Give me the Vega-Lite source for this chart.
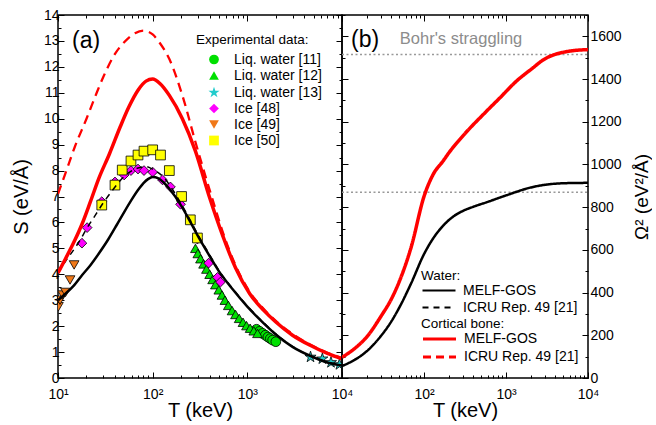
{
  "$schema": "https://vega.github.io/schema/vega-lite/v6.json",
  "padding": {"left": 10, "top": 7, "right": 0, "bottom": 0},
  "background": "white",
  "spacing": 0,
  "bounds": "flush",
  "config": {
    "font": "Liberation Sans",
    "view": {"stroke": "black", "strokeWidth": 1.5},
    "axis": {"domain": false, "grid": false, "labelFont": "Liberation Sans", "labelFontSize": 14, "labelColor": "black", "titleFont": "Liberation Sans", "titleFontSize": 20, "titleFontWeight": "normal", "titleColor": "black", "tickColor": "black", "tickWidth": 1},
    "legend": {"labelFont": "Liberation Sans", "titleFont": "Liberation Sans", "labelFontSize": 14, "titleFontSize": 13.5, "titleFontWeight": "normal", "labelColor": "black", "titleColor": "black", "symbolOffset": 11, "padding": 0}
  },
  "datasets": {
    "curvesA": [
      {"m": "wm", "T": 10, "S": 3.0}, {"m": "wm", "T": 12, "S": 3.25}, {"m": "wm", "T": 15, "S": 3.6}, {"m": "wm", "T": 18, "S": 3.97}, {"m": "wm", "T": 22, "S": 4.35}, {"m": "wm", "T": 27, "S": 4.8}, {"m": "wm", "T": 34, "S": 5.35}, {"m": "wm", "T": 42, "S": 5.92}, {"m": "wm", "T": 50, "S": 6.4}, {"m": "wm", "T": 60, "S": 6.88}, {"m": "wm", "T": 70, "S": 7.25}, {"m": "wm", "T": 80, "S": 7.52}, {"m": "wm", "T": 90, "S": 7.68}, {"m": "wm", "T": 100, "S": 7.75}, {"m": "wm", "T": 115, "S": 7.7}, {"m": "wm", "T": 130, "S": 7.55}, {"m": "wm", "T": 150, "S": 7.3}, {"m": "wm", "T": 200, "S": 6.65}, {"m": "wm", "T": 250, "S": 6.02}, {"m": "wm", "T": 300, "S": 5.48}, {"m": "wm", "T": 400, "S": 4.7}, {"m": "wm", "T": 500, "S": 4.12}, {"m": "wm", "T": 700, "S": 3.42}, {"m": "wm", "T": 1000, "S": 2.75}, {"m": "wm", "T": 1500, "S": 2.1}, {"m": "wm", "T": 2000, "S": 1.68}, {"m": "wm", "T": 3000, "S": 1.2}, {"m": "wm", "T": 5000, "S": 0.8}, {"m": "wm", "T": 7000, "S": 0.6}, {"m": "wm", "T": 10000, "S": 0.48},
      {"m": "wi", "T": 10, "S": 4.05}, {"m": "wi", "T": 12, "S": 4.5}, {"m": "wi", "T": 15, "S": 5.0}, {"m": "wi", "T": 17, "S": 5.3}, {"m": "wi", "T": 20, "S": 5.75}, {"m": "wi", "T": 25, "S": 6.3}, {"m": "wi", "T": 30, "S": 6.75}, {"m": "wi", "T": 37, "S": 7.2}, {"m": "wi", "T": 45, "S": 7.6}, {"m": "wi", "T": 55, "S": 7.9}, {"m": "wi", "T": 70, "S": 8.1}, {"m": "wi", "T": 85, "S": 8.15}, {"m": "wi", "T": 100, "S": 8.05}, {"m": "wi", "T": 130, "S": 7.75}, {"m": "wi", "T": 160, "S": 7.3}, {"m": "wi", "T": 200, "S": 6.72}, {"m": "wi", "T": 250, "S": 6.08}, {"m": "wi", "T": 300, "S": 5.53}, {"m": "wi", "T": 400, "S": 4.75}, {"m": "wi", "T": 500, "S": 4.15}, {"m": "wi", "T": 700, "S": 3.45}, {"m": "wi", "T": 1000, "S": 2.78}, {"m": "wi", "T": 1500, "S": 2.12}, {"m": "wi", "T": 2000, "S": 1.7}, {"m": "wi", "T": 3000, "S": 1.22}, {"m": "wi", "T": 5000, "S": 0.8}, {"m": "wi", "T": 7000, "S": 0.62}, {"m": "wi", "T": 10000, "S": 0.5},
      {"m": "bm", "T": 10, "S": 4.05}, {"m": "bm", "T": 12, "S": 4.6}, {"m": "bm", "T": 15, "S": 5.3}, {"m": "bm", "T": 18, "S": 5.95}, {"m": "bm", "T": 22, "S": 6.8}, {"m": "bm", "T": 27, "S": 7.7}, {"m": "bm", "T": 35, "S": 8.65}, {"m": "bm", "T": 45, "S": 9.65}, {"m": "bm", "T": 56, "S": 10.45}, {"m": "bm", "T": 70, "S": 11.1}, {"m": "bm", "T": 85, "S": 11.45}, {"m": "bm", "T": 100, "S": 11.53}, {"m": "bm", "T": 120, "S": 11.35}, {"m": "bm", "T": 150, "S": 10.9}, {"m": "bm", "T": 206, "S": 10.0}, {"m": "bm", "T": 283, "S": 8.75}, {"m": "bm", "T": 400, "S": 6.95}, {"m": "bm", "T": 548, "S": 5.5}, {"m": "bm", "T": 750, "S": 4.25}, {"m": "bm", "T": 1060, "S": 3.25}, {"m": "bm", "T": 1500, "S": 2.6}, {"m": "bm", "T": 2000, "S": 2.16}, {"m": "bm", "T": 3000, "S": 1.65}, {"m": "bm", "T": 4550, "S": 1.27}, {"m": "bm", "T": 7000, "S": 0.95}, {"m": "bm", "T": 10000, "S": 0.74},
      {"m": "bi", "T": 10, "S": 7.1}, {"m": "bi", "T": 12, "S": 7.9}, {"m": "bi", "T": 15, "S": 8.9}, {"m": "bi", "T": 20, "S": 10.0}, {"m": "bi", "T": 25, "S": 10.9}, {"m": "bi", "T": 30, "S": 11.6}, {"m": "bi", "T": 40, "S": 12.5}, {"m": "bi", "T": 50, "S": 12.95}, {"m": "bi", "T": 65, "S": 13.3}, {"m": "bi", "T": 80, "S": 13.4}, {"m": "bi", "T": 100, "S": 13.25}, {"m": "bi", "T": 120, "S": 12.9}, {"m": "bi", "T": 150, "S": 12.3}, {"m": "bi", "T": 206, "S": 10.9}, {"m": "bi", "T": 283, "S": 9.1}, {"m": "bi", "T": 428, "S": 6.9}, {"m": "bi", "T": 548, "S": 5.65}, {"m": "bi", "T": 750, "S": 4.35}, {"m": "bi", "T": 1060, "S": 3.32}, {"m": "bi", "T": 1500, "S": 2.65}, {"m": "bi", "T": 2000, "S": 2.2}, {"m": "bi", "T": 3000, "S": 1.7}, {"m": "bi", "T": 4550, "S": 1.3}, {"m": "bi", "T": 7000, "S": 0.97}, {"m": "bi", "T": 10000, "S": 0.77}
    ],
    "exp": [
      {"set": "Liq. water [11]", "T": 1250, "S": 1.88}, {"set": "Liq. water [11]", "T": 1350, "S": 1.8}, {"set": "Liq. water [11]", "T": 1450, "S": 1.72}, {"set": "Liq. water [11]", "T": 1550, "S": 1.65}, {"set": "Liq. water [11]", "T": 1650, "S": 1.58}, {"set": "Liq. water [11]", "T": 1750, "S": 1.52}, {"set": "Liq. water [11]", "T": 1850, "S": 1.46}, {"set": "Liq. water [11]", "T": 2000, "S": 1.4},
      {"set": "Liq. water [12]", "T": 283, "S": 5.0}, {"set": "Liq. water [12]", "T": 300, "S": 4.8}, {"set": "Liq. water [12]", "T": 320, "S": 4.6}, {"set": "Liq. water [12]", "T": 345, "S": 4.4}, {"set": "Liq. water [12]", "T": 370, "S": 4.2}, {"set": "Liq. water [12]", "T": 400, "S": 4.0}, {"set": "Liq. water [12]", "T": 430, "S": 3.8}, {"set": "Liq. water [12]", "T": 460, "S": 3.6}, {"set": "Liq. water [12]", "T": 500, "S": 3.4}, {"set": "Liq. water [12]", "T": 540, "S": 3.2}, {"set": "Liq. water [12]", "T": 580, "S": 3.0}, {"set": "Liq. water [12]", "T": 630, "S": 2.8}, {"set": "Liq. water [12]", "T": 690, "S": 2.6}, {"set": "Liq. water [12]", "T": 750, "S": 2.45}, {"set": "Liq. water [12]", "T": 820, "S": 2.3}, {"set": "Liq. water [12]", "T": 900, "S": 2.15}, {"set": "Liq. water [12]", "T": 980, "S": 2.02}, {"set": "Liq. water [12]", "T": 1070, "S": 1.92}, {"set": "Liq. water [12]", "T": 1170, "S": 1.82}, {"set": "Liq. water [12]", "T": 1280, "S": 1.72},
      {"set": "Liq. water [13]", "T": 4650, "S": 0.81}, {"set": "Liq. water [13]", "T": 6200, "S": 0.74}, {"set": "Liq. water [13]", "T": 7650, "S": 0.6}, {"set": "Liq. water [13]", "T": 9400, "S": 0.52},
      {"set": "Ice [48]", "T": 17.9, "S": 5.2}, {"set": "Ice [48]", "T": 20.3, "S": 5.8}, {"set": "Ice [48]", "T": 29, "S": 6.8}, {"set": "Ice [48]", "T": 40, "S": 7.56}, {"set": "Ice [48]", "T": 50, "S": 7.83}, {"set": "Ice [48]", "T": 59, "S": 8.0}, {"set": "Ice [48]", "T": 70, "S": 8.06}, {"set": "Ice [48]", "T": 81, "S": 8.0}, {"set": "Ice [48]", "T": 100, "S": 7.94}, {"set": "Ice [48]", "T": 127, "S": 7.64}, {"set": "Ice [48]", "T": 154, "S": 7.37}, {"set": "Ice [48]", "T": 197, "S": 6.7}, {"set": "Ice [48]", "T": 297, "S": 5.36}, {"set": "Ice [48]", "T": 390, "S": 4.43}, {"set": "Ice [48]", "T": 484, "S": 3.88}, {"set": "Ice [48]", "T": 520, "S": 3.7},
      {"set": "Ice [49]", "T": 10.1, "S": 2.75}, {"set": "Ice [49]", "T": 10.5, "S": 3.0}, {"set": "Ice [49]", "T": 11.2, "S": 3.2}, {"set": "Ice [49]", "T": 12, "S": 3.3}, {"set": "Ice [49]", "T": 13.4, "S": 3.78}, {"set": "Ice [49]", "T": 14.8, "S": 4.36},
      {"set": "Ice [50]", "T": 29, "S": 6.67}, {"set": "Ice [50]", "T": 40, "S": 7.44}, {"set": "Ice [50]", "T": 47.7, "S": 8.02}, {"set": "Ice [50]", "T": 59, "S": 8.37}, {"set": "Ice [50]", "T": 70, "S": 8.6}, {"set": "Ice [50]", "T": 81, "S": 8.75}, {"set": "Ice [50]", "T": 100, "S": 8.8}, {"set": "Ice [50]", "T": 121, "S": 8.6}, {"set": "Ice [50]", "T": 150, "S": 8.0}, {"set": "Ice [50]", "T": 202, "S": 7.0}, {"set": "Ice [50]", "T": 250, "S": 6.1}, {"set": "Ice [50]", "T": 297, "S": 5.4}
    ],
    "curvesB": [
      {"mat": "water", "model": "MELF-GOS", "T": 10, "O": 56}, {"mat": "water", "model": "MELF-GOS", "T": 15, "O": 90}, {"mat": "water", "model": "MELF-GOS", "T": 20, "O": 125}, {"mat": "water", "model": "MELF-GOS", "T": 30, "O": 198}, {"mat": "water", "model": "MELF-GOS", "T": 40, "O": 265}, {"mat": "water", "model": "MELF-GOS", "T": 50, "O": 330}, {"mat": "water", "model": "MELF-GOS", "T": 70, "O": 445}, {"mat": "water", "model": "MELF-GOS", "T": 100, "O": 580}, {"mat": "water", "model": "MELF-GOS", "T": 130, "O": 655}, {"mat": "water", "model": "MELF-GOS", "T": 170, "O": 712}, {"mat": "water", "model": "MELF-GOS", "T": 220, "O": 752}, {"mat": "water", "model": "MELF-GOS", "T": 300, "O": 783}, {"mat": "water", "model": "MELF-GOS", "T": 400, "O": 802}, {"mat": "water", "model": "MELF-GOS", "T": 600, "O": 825}, {"mat": "water", "model": "MELF-GOS", "T": 1000, "O": 855}, {"mat": "water", "model": "MELF-GOS", "T": 2000, "O": 892}, {"mat": "water", "model": "MELF-GOS", "T": 3000, "O": 905}, {"mat": "water", "model": "MELF-GOS", "T": 5000, "O": 912}, {"mat": "water", "model": "MELF-GOS", "T": 10000, "O": 914},
      {"mat": "bone", "model": "MELF-GOS", "T": 10, "O": 97}, {"mat": "bone", "model": "MELF-GOS", "T": 15, "O": 145}, {"mat": "bone", "model": "MELF-GOS", "T": 20, "O": 192}, {"mat": "bone", "model": "MELF-GOS", "T": 30, "O": 290}, {"mat": "bone", "model": "MELF-GOS", "T": 40, "O": 370}, {"mat": "bone", "model": "MELF-GOS", "T": 50, "O": 452}, {"mat": "bone", "model": "MELF-GOS", "T": 70, "O": 615}, {"mat": "bone", "model": "MELF-GOS", "T": 100, "O": 850}, {"mat": "bone", "model": "MELF-GOS", "T": 130, "O": 955}, {"mat": "bone", "model": "MELF-GOS", "T": 170, "O": 1015}, {"mat": "bone", "model": "MELF-GOS", "T": 206, "O": 1060}, {"mat": "bone", "model": "MELF-GOS", "T": 300, "O": 1135}, {"mat": "bone", "model": "MELF-GOS", "T": 570, "O": 1247}, {"mat": "bone", "model": "MELF-GOS", "T": 843, "O": 1312}, {"mat": "bone", "model": "MELF-GOS", "T": 1320, "O": 1388}, {"mat": "bone", "model": "MELF-GOS", "T": 2140, "O": 1453}, {"mat": "bone", "model": "MELF-GOS", "T": 2800, "O": 1488}, {"mat": "bone", "model": "MELF-GOS", "T": 5400, "O": 1528}, {"mat": "bone", "model": "MELF-GOS", "T": 10000, "O": 1538}
    ],
    "bohr": [
      {"mat": "bone", "T": 10, "O": 1515}, {"mat": "bone", "T": 10000, "O": 1515},
      {"mat": "water", "T": 10, "O": 870}, {"mat": "water", "T": 10000, "O": 870}
    ],
    "labelsA": [{"txt": "(a)", "T": 19.8, "S": 13.0}],
    "labelsB": [{"txt": "(b)", "T": 19.1, "O": 1585, "g": "p"}, {"txt": "Bohr's straggling", "T": 283, "O": 1589, "g": "b"}]
  },
  "hconcat": [
    {
      "width": 284,
      "height": 363,
      "layer": [
        {
          "data": {"name": "exp"},
          "mark": {"type": "point", "filled": true, "stroke": "black", "strokeWidth": 0.8, "opacity": 1, "size": 95, "clip": true},
          "encoding": {
            "x": {"field": "T", "type": "quantitative", "scale": {"type": "log", "domain": [10, 10000], "nice": false},
              "axis": {"orient": "bottom", "title": "T (keV)", "values": [10,20,30,40,50,60,70,80,90,100,200,300,400,500,600,700,800,900,1000,2000,3000,4000,5000,6000,7000,8000,9000,10000],
                "labelExpr": "datum.value == 10 ? '10¹' : datum.value == 100 ? '10²' : datum.value == 1000 ? '10³' : datum.value == 10000 ? '10⁴' : ''",
                "tickSize": {"condition": {"test": "indexof([10,100,1000,10000], datum.value) >= 0", "value": -6}, "value": -3},
                "labelPadding": 15, "titlePadding": -4, "labelFlush": false, "labelOverlap": false}},
            "y": {"field": "S", "type": "quantitative", "scale": {"domain": [0, 14], "nice": false},
              "axis": {"orient": "left", "title": "S (eV/Å)", "values": [0,0.5,1,1.5,2,2.5,3,3.5,4,4.5,5,5.5,6,6.5,7,7.5,8,8.5,9,9.5,10,10.5,11,11.5,12,12.5,13,13.5,14],
                "labelExpr": "datum.value % 1 == 0 ? datum.value : ''",
                "tickSize": {"condition": {"test": "datum.value % 1 == 0", "value": -6}, "value": -3},
                "labelPadding": 5, "titlePadding": 12, "labelFlush": false, "labelOverlap": false}},
            "fill": {"field": "set", "type": "nominal",
              "scale": {"domain": ["Liq. water [11]", "Liq. water [12]", "Liq. water [13]", "Ice [48]", "Ice [49]", "Ice [50]"], "range": ["#00e000", "#00e000", "#22cccc", "#ff00ff", "#f07818", "#ffff00"]},
              "legend": {"title": "Experimental data:", "orient": "none", "legendX": 138, "legendY": 18, "padding": 0, "symbolSize": 95, "symbolStrokeColor": "black", "symbolStrokeWidth": 0.8, "rowPadding": 2, "symbolOffset": 11, "labelOffset": 13, "titlePadding": 6}},
            "shape": {"field": "set", "type": "nominal",
              "scale": {"domain": ["Liq. water [11]", "Liq. water [12]", "Liq. water [13]", "Ice [48]", "Ice [49]", "Ice [50]"], "range": ["circle", "triangle-up", "M0,-1.2L0.27,-0.37L1.14,-0.37L0.44,0.14L0.71,0.97L0,0.46L-0.71,0.97L-0.44,0.14L-1.14,-0.37L-0.27,-0.37Z", "diamond", "triangle-down", "square"]},
              "legend": {"title": "Experimental data:", "orient": "none", "legendX": 138, "legendY": 18, "padding": 0, "symbolSize": 95, "symbolStrokeColor": "black", "symbolStrokeWidth": 0.8, "rowPadding": 2, "symbolOffset": 11, "labelOffset": 13, "titlePadding": 6}}
          }
        },
        {
          "data": {"name": "curvesA"},
          "transform": [{"filter": "datum.m == 'wm'"}],
          "mark": {"type": "line", "color": "black", "strokeWidth": 2.5, "clip": true, "interpolate": "monotone"},
          "encoding": {
            "x": {"field": "T", "type": "quantitative", "scale": {"type": "log", "domain": [10, 10000], "nice": false},
              "axis": {"orient": "top", "title": null, "labels": false, "values": [10,20,30,40,50,60,70,80,90,100,200,300,400,500,600,700,800,900,1000,2000,3000,4000,5000,6000,7000,8000,9000,10000],
                "tickSize": {"condition": {"test": "indexof([10,100,1000,10000], datum.value) >= 0", "value": -6}, "value": -3}}},
            "y": {"field": "S", "type": "quantitative", "scale": {"domain": [0, 14], "nice": false},
              "axis": {"orient": "right", "title": null, "labels": false, "values": [0,0.5,1,1.5,2,2.5,3,3.5,4,4.5,5,5.5,6,6.5,7,7.5,8,8.5,9,9.5,10,10.5,11,11.5,12,12.5,13,13.5,14],
                "tickSize": {"condition": {"test": "datum.value % 1 == 0", "value": -6}, "value": -3}}}
          }
        },
        {
          "data": {"name": "curvesA"},
          "transform": [{"filter": "datum.m == 'wi'"}],
          "mark": {"type": "line", "color": "black", "strokeWidth": 1.5, "strokeDash": [6, 5], "clip": true, "interpolate": "monotone"},
          "encoding": {
            "x": {"field": "T", "type": "quantitative", "scale": {"type": "log", "domain": [10, 10000], "nice": false}, "axis": null},
            "y": {"field": "S", "type": "quantitative", "scale": {"domain": [0, 14], "nice": false}, "axis": null}
          }
        },
        {
          "data": {"name": "curvesA"},
          "transform": [{"filter": "datum.m == 'bi'"}],
          "mark": {"type": "line", "color": "#ff0000", "strokeWidth": 2.3, "strokeDash": [9, 6], "clip": true, "interpolate": "monotone"},
          "encoding": {
            "x": {"field": "T", "type": "quantitative", "scale": {"type": "log", "domain": [10, 10000], "nice": false}, "axis": null},
            "y": {"field": "S", "type": "quantitative", "scale": {"domain": [0, 14], "nice": false}, "axis": null}
          }
        },
        {
          "data": {"name": "curvesA"},
          "transform": [{"filter": "datum.m == 'bm'"}],
          "mark": {"type": "line", "color": "#ff0000", "strokeWidth": 3.5, "clip": true, "interpolate": "monotone"},
          "encoding": {
            "x": {"field": "T", "type": "quantitative", "scale": {"type": "log", "domain": [10, 10000], "nice": false}, "axis": null},
            "y": {"field": "S", "type": "quantitative", "scale": {"domain": [0, 14], "nice": false}, "axis": null}
          }
        },
        {
          "data": {"name": "labelsA"},
          "mark": {"type": "text", "fontSize": 23, "font": "Liberation Sans", "align": "center", "baseline": "middle", "color": "black"},
          "encoding": {
            "x": {"field": "T", "type": "quantitative", "scale": {"type": "log", "domain": [10, 10000], "nice": false}, "axis": null},
            "y": {"field": "S", "type": "quantitative", "scale": {"domain": [0, 14], "nice": false}, "axis": null},
            "text": {"field": "txt"}
          }
        }
      ],
      "resolve": {"axis": {"x": "independent", "y": "independent"}}
    },
    {
      "width": 246,
      "height": 363,
      "layer": [
        {
          "data": {"name": "bohr"},
          "mark": {"type": "line", "color": "#999999", "strokeWidth": 1.6, "strokeDash": [2, 2.5]},
          "encoding": {
            "x": {"field": "T", "type": "quantitative", "scale": {"type": "log", "domain": [10, 10000], "nice": false},
              "axis": {"orient": "bottom", "title": "T (keV)", "values": [10,20,30,40,50,60,70,80,90,100,200,300,400,500,600,700,800,900,1000,2000,3000,4000,5000,6000,7000,8000,9000,10000],
                "labelExpr": "datum.value == 100 ? '10²' : datum.value == 1000 ? '10³' : datum.value == 10000 ? '10⁴' : ''",
                "tickSize": {"condition": {"test": "indexof([10,100,1000,10000], datum.value) >= 0", "value": -6}, "value": -3},
                "labelPadding": 15, "titlePadding": -4, "labelFlush": false, "labelOverlap": false}},
            "y": {"field": "O", "type": "quantitative", "scale": {"domain": [0, 1700], "nice": false},
              "axis": {"orient": "right", "title": "Ω² (eV²/Å)", "titleAngle": 270, "titleBaseline": "top", "titleFontSize": 19, "values": [0,100,200,300,400,500,600,700,800,900,1000,1100,1200,1300,1400,1500,1600,1700],
                "labelExpr": "datum.value % 200 == 0 && datum.value <= 1600 ? datum.value : ''",
                "tickSize": {"condition": {"test": "datum.value % 200 == 0", "value": -6}, "value": -3},
                "labelPadding": 8, "titlePadding": 11, "labelFlush": false, "labelOverlap": false}},
            "detail": {"field": "mat"}
          }
        },
        {
          "data": {"name": "curvesB"},
          "transform": [{"filter": "datum.mat == 'water'"}],
          "mark": {"type": "line", "color": "black", "strokeWidth": 2.5, "clip": true, "interpolate": "monotone"},
          "encoding": {
            "x": {"field": "T", "type": "quantitative", "scale": {"type": "log", "domain": [10, 10000], "nice": false},
              "axis": {"orient": "top", "title": null, "labels": false, "values": [10,20,30,40,50,60,70,80,90,100,200,300,400,500,600,700,800,900,1000,2000,3000,4000,5000,6000,7000,8000,9000,10000],
                "tickSize": {"condition": {"test": "indexof([10,100,1000,10000], datum.value) >= 0", "value": -6}, "value": -3}}},
            "y": {"field": "O", "type": "quantitative", "scale": {"domain": [0, 1700], "nice": false},
              "axis": {"orient": "left", "title": null, "labels": false, "values": [0,100,200,300,400,500,600,700,800,900,1000,1100,1200,1300,1400,1500,1600,1700],
                "tickSize": {"condition": {"test": "datum.value % 200 == 0", "value": -6}, "value": -3}}},
            "strokeDash": {"field": "model", "type": "nominal",
              "scale": {"domain": ["MELF-GOS", "ICRU Rep. 49 [21]"], "range": [[1, 0], [6, 5]]},
              "legend": {"title": "Water:", "orient": "none", "legendX": 79, "legendY": 254, "padding": 0, "symbolType": "M-3,0L3,0", "symbolSize": 121, "symbolStrokeColor": "black", "symbolStrokeWidth": 2.2, "symbolOffset": 11, "labelOffset": 17, "rowPadding": 3, "titlePadding": 1}}
          }
        },
        {
          "data": {"name": "curvesB"},
          "transform": [{"filter": "datum.mat == 'bone'"}],
          "mark": {"type": "line", "color": "#ff0000", "strokeWidth": 3.5, "clip": true, "interpolate": "monotone"},
          "encoding": {
            "x": {"field": "T", "type": "quantitative", "scale": {"type": "log", "domain": [10, 10000], "nice": false}, "axis": null},
            "y": {"field": "O", "type": "quantitative", "scale": {"domain": [0, 1700], "nice": false}, "axis": null},
            "strokeDash": {"field": "model", "type": "nominal",
              "scale": {"domain": ["MELF-GOS", "ICRU Rep. 49 [21]"], "range": [[1, 0], [8, 5]]},
              "legend": {"title": "Cortical bone:", "orient": "none", "legendX": 79, "legendY": 302, "padding": 0, "symbolType": "M-3,0L3,0", "symbolSize": 121, "symbolStrokeColor": "#ff0000", "symbolStrokeWidth": 3.2, "symbolOffset": 11, "labelOffset": 17, "rowPadding": 3, "titlePadding": 1}}
          }
        },
        {
          "data": {"name": "labelsB"},
          "mark": {"type": "text", "font": "Liberation Sans", "align": "center", "baseline": "middle"},
          "encoding": {
            "x": {"field": "T", "type": "quantitative", "scale": {"type": "log", "domain": [10, 10000], "nice": false}, "axis": null},
            "y": {"field": "O", "type": "quantitative", "scale": {"domain": [0, 1700], "nice": false}, "axis": null},
            "text": {"field": "txt"},
            "size": {"field": "g", "type": "nominal", "scale": {"domain": ["p", "b"], "range": [23, 16.5]}, "legend": null},
            "color": {"field": "g", "type": "nominal", "scale": {"domain": ["p", "b"], "range": ["black", "#8c8c8c"]}, "legend": null}
          }
        }
      ],
      "resolve": {"axis": {"x": "independent", "y": "independent"}, "scale": {"strokeDash": "independent"}, "legend": {"strokeDash": "independent"}}
    }
  ]
}
